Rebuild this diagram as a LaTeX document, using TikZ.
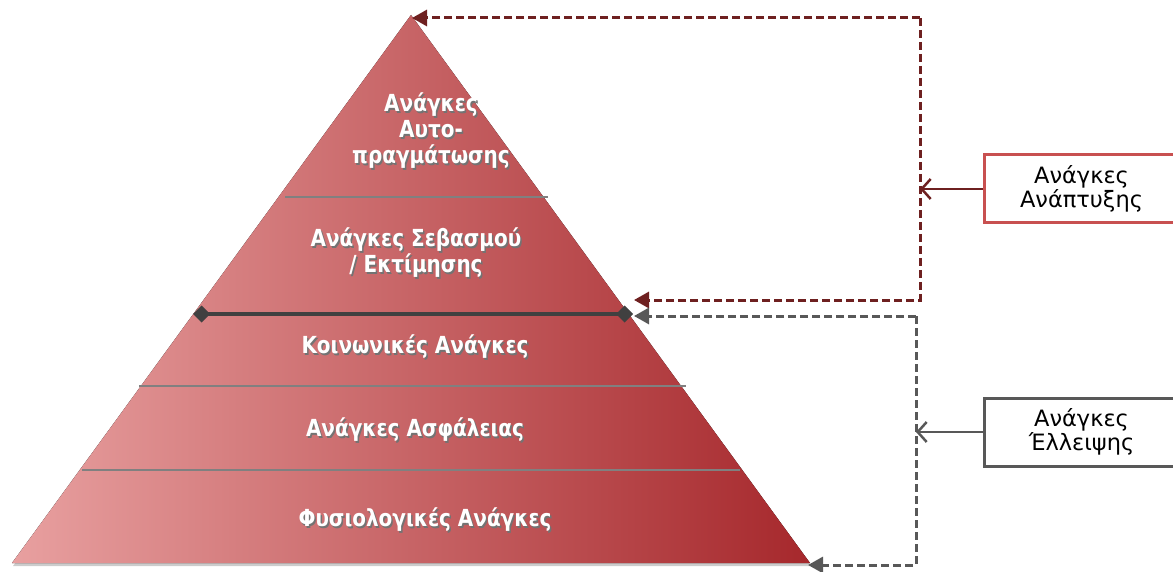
\documentclass[tikz,border=0pt]{standalone}
\usepackage{fontspec}
\setmainfont{DejaVu Sans}
\newfontfamily\lvlfont[FakeStretch=0.85]{DejaVu Sans}
\usetikzlibrary{arrows.meta, positioning, calc, shadows}
\definecolor{cPyrLight}{RGB}{232,160,160}
\definecolor{cPyrDark}{RGB}{166,40,44}
\definecolor{cDRed}{RGB}{110,32,32}
\definecolor{cBoxRed}{RGB}{200,80,80}
\definecolor{cGrayD}{RGB}{88,88,88}
\definecolor{cLevel}{RGB}{128,128,128}
\definecolor{cSplit}{RGB}{64,64,64}
\tikzset{
  %% pyramid labels
  lvltext/.style={font=\lvlfont\bfseries\fontsize{23.5}{26}\selectfont, text=white,
                  align=center, inner sep=0pt},
  lvlshadow/.style={lvltext, text=black!55, xshift=1.5pt, yshift=-1.5pt},
  %% level separators
  levelline/.style={draw=cLevel, line width=2.5pt},
  splitline/.style={draw=cSplit, line width=4pt,
                    {Diamond[length=17pt,width=17pt]}-{Diamond[length=17pt,width=17pt]}},
  %% side boxes
  sidebox/.style={rectangle, draw, line width=3pt, fill=white, anchor=west,
                  minimum width=194pt, minimum height=68pt, align=center,
                  font=\fontsize{22.5}{22}\selectfont},
  sideboxR/.style={sidebox, draw=cBoxRed},
  sideboxG/.style={sidebox, draw=cGrayD},
  %% arrows
  fbarrow/.style={dashed, dash pattern=on 8pt off 4pt, line width=3pt,
                  -{Triangle[length=15pt,width=16pt]}},
  fbarrowR/.style={fbarrow, draw=cDRed},
  fbarrowG/.style={fbarrow, draw=cGrayD},
  ptrarrow/.style={line width=2.5pt, -{Straight Barb[length=9pt,width=20pt]}},
}
\newcommand{\lvllabel}[3]{%
  \node[lvlshadow] at #2 {#3};
  \node[lvltext] (#1) at #2 {#3};}

\begin{document}
\begin{tikzpicture}[x=1pt, y=-1pt]
\useasboundingbox (0,0) rectangle (1173,572);

%% ----- Pyramid -----
\coordinate (apex) at (411,15);
\coordinate (baseL) at (12,563);
\coordinate (baseR) at (810,563);
\fill[left color=cPyrLight, right color=cPyrDark,
      drop shadow={shadow xshift=1pt, shadow yshift=-3pt, opacity=0.4}]
  (apex) -- (baseR) -- (baseL) -- cycle;

%% ----- Level separators -----
\draw[levelline] (285,197) -- (548,197);
\draw[levelline] (139,386) -- (686,386);
\draw[levelline] (82,470) -- (740,470);
\draw[splitline] (193,314) -- (633,314);

%% ----- Level labels -----
\lvllabel{selfact}{(431,131)}{Ανάγκες\\Αυτο-\\πραγμάτωσης}
\lvllabel{esteem}{(416,253)}{Ανάγκες Σεβασμού\\/ Εκτίμησης}
\lvllabel{social}{(415,347)}{Κοινωνικές Ανάγκες}
\lvllabel{safety}{(415,430)}{Ανάγκες Ασφάλειας}
\lvllabel{physio}{(425,520)}{Φυσιολογικές Ανάγκες}

%% ----- Side boxes -----
\node[sideboxR] (growth) at (983,189) {Ανάγκες\\Ανάπτυξης};
\node[sideboxG] (defic)  at (983,432) {Ανάγκες\\Έλλειψης};

%% ----- Growth loop (dark red) -----
\coordinate (grwT) at (920,18);
\coordinate (grwB) at (920,300);
\coordinate (grwM) at (920,189);
\coordinate (topTip) at (412,18);
\coordinate (midTipR) at (634,300);
\draw[fbarrowR] (grwT) -- (topTip);
\draw[fbarrowR] (grwT) -- (grwB) -- (midTipR);
\draw[ptrarrow, cDRed] (growth.west) -- (grwM);

%% ----- Deficiency loop (gray) -----
\coordinate (defT) at (916,316);
\coordinate (defB) at (916,565);
\coordinate (defM) at (916,432);
\coordinate (midTipG) at (634,316);
\coordinate (baseTip) at (808,565);
\draw[fbarrowG] (defT) -- (midTipG);
\draw[fbarrowG] (defT) -- (defB) -- (baseTip);
\draw[ptrarrow, cGrayD] (defic.west) -- (defM);

\end{tikzpicture}
\end{document}
